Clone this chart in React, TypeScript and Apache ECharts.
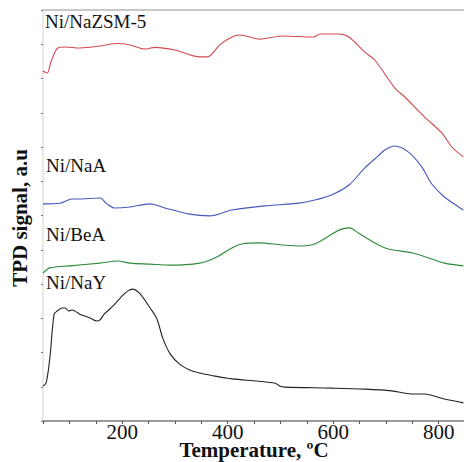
import React, { useEffect, useRef } from "react";
import * as echarts from "echarts";

const seriesNames = ["Ni/NaZSM-5", "Ni/NaA", "Ni/BeA", "Ni/NaY"];

const redTemp = [50, 58, 65, 78, 92, 120, 158, 190, 215, 243, 262, 300, 347, 362, 385, 408, 423, 461, 503, 563, 575, 611, 630, 660, 679, 717, 736, 773, 806, 825, 847];
const redSignal = [10.22, 10.16, 10.48, 10.89, 10.92, 10.89, 10.95, 11.02, 10.98, 10.86, 10.91, 10.83, 10.63, 10.63, 10.98, 11.21, 11.27, 11.15, 11.24, 11.21, 11.3, 11.3, 11.21, 10.77, 10.54, 9.72, 9.46, 8.88, 8.41, 8.0, 7.71];

const blueTemp = [50, 82, 105, 114, 158, 171, 186, 215, 253, 281, 328, 366, 408, 470, 535, 565, 597, 630, 660, 679, 698, 717, 743, 768, 787, 811, 838, 847];
const blueSignal = [6.34, 6.36, 6.48, 6.48, 6.51, 6.34, 6.22, 6.25, 6.34, 6.22, 6.04, 5.99, 6.16, 6.28, 6.36, 6.45, 6.6, 6.89, 7.39, 7.65, 7.91, 8.03, 7.85, 7.42, 6.92, 6.54, 6.25, 6.16];

const greenTemp = [50, 63, 101, 158, 192, 215, 253, 291, 347, 376, 408, 427, 459, 503, 541, 565, 592, 612, 631, 648, 679, 705, 749, 787, 811, 847];
const greenSignal = [4.32, 4.47, 4.53, 4.61, 4.67, 4.61, 4.58, 4.55, 4.61, 4.76, 5.05, 5.17, 5.2, 5.14, 5.11, 5.17, 5.4, 5.58, 5.64, 5.49, 5.2, 5.02, 4.91, 4.73, 4.61, 4.53];

const blackTemp = [50, 56, 63, 71, 77, 86, 92, 99, 105, 120, 139, 152, 158, 166, 183, 200, 211, 220, 234, 253, 266, 277, 291, 309, 328, 347, 376, 395, 408, 489, 499, 508, 597, 660, 711, 749, 773, 811, 847];
const blackSignal = [1.02, 1.11, 1.84, 3.12, 3.21, 3.3, 3.3, 3.21, 3.24, 3.12, 3.01, 2.92, 2.95, 3.12, 3.36, 3.65, 3.8, 3.85, 3.71, 3.3, 2.98, 2.42, 1.96, 1.66, 1.49, 1.4, 1.31, 1.26, 1.23, 1.11, 1.02, 0.99, 0.96, 0.93, 0.88, 0.79, 0.79, 0.64, 0.53];

const xTickLabels = [200, 400, 600, 800];
const xTitle = "Temperature, ºC";
const yTitle = "TPD signal, a.u";

const SERIF = "'Liberation Serif', 'Times New Roman', serif";

function pairs(xs: number[], ys: number[]) {
  return xs.map((x, i) => [x, ys[i]]);
}

export default function App() {
  const ref = useRef<HTMLDivElement>(null);
  useEffect(() => {
    document.body.style.margin = "0";
    if (!ref.current) return;
    const chart = echarts.init(ref.current, undefined, { renderer: "svg" });
    const colors = ["#d24a52", "#4558ba", "#2f8a3a", "#222222"];
    const datasets = [
      pairs(redTemp, redSignal),
      pairs(blueTemp, blueSignal),
      pairs(greenTemp, greenSignal),
      pairs(blackTemp, blackSignal),
    ];
    const labelPos = [
      [45, 23],
      [46, 167],
      [46, 236],
      [46, 284],
    ];
    chart.setOption({
      animation: false,
      backgroundColor: "#ffffff",
      grid: { left: 43, top: 10, width: 422, height: 411, containLabel: false, outerBoundsMode: "none" },
      xAxis: [
        {
          type: "value",
          min: 50,
          max: 850,
          interval: 50,
          axisLine: { lineStyle: { color: "#7a7a7a", width: 1.5 } },
          axisTick: { length: 3, lineStyle: { color: "#555" } },
          axisLabel: {
            fontFamily: SERIF,
            fontSize: 21,
            lineHeight: 17,
            color: "#111",
            margin: 2,
            formatter: (v: number) => (xTickLabels.includes(v) ? String(v) : ""),
          },
          splitLine: { show: false },
        },
        {
          type: "value",
          position: "top",
          min: 50,
          max: 850,
          interval: 50,
          axisLine: { show: true, lineStyle: { color: "#c8c8c8", width: 2 } },
          axisTick: { show: false },
          axisLabel: { show: false },
          splitLine: { show: false },
        },
      ],
      yAxis: {
        type: "value",
        min: 0,
        max: 12,
        interval: 1,
        axisLine: { show: true, lineStyle: { color: "#e2e2e2", width: 1.5 } },
        axisTick: { show: true, length: 2, lineStyle: { color: "#777" } },
        axisLabel: { show: false },
        splitLine: { show: false },
      },
      series: datasets.map((d, i) => ({
        type: "line",
        name: seriesNames[i],
        data: d,
        showSymbol: false,
        smooth: 0.3,
        lineStyle: { color: colors[i], width: 1.1 },
        xAxisIndex: 0,
      })),
      graphic: [
        ...seriesNames.map((n, i) => ({
          type: "text",
          left: labelPos[i][0],
          top: labelPos[i][1] - 11,
          style: { text: n, fontFamily: SERIF, fontSize: 19, fill: "#111" },
        })),
        {
          type: "text",
          x: 254,
          y: 450,
          style: {
            text: xTitle,
            fontFamily: SERIF,
            fontWeight: "bold",
            fontSize: 21,
            lineHeight: 18,
            fill: "#111",
            align: "center",
            verticalAlign: "middle",
          },
        },
        {
          type: "text",
          x: 20,
          y: 218,
          rotation: Math.PI / 2,
          style: {
            text: yTitle,
            fontFamily: SERIF,
            fontWeight: "bold",
            fontSize: 21,
            fill: "#111",
            align: "center",
            verticalAlign: "middle",
          },
        },
      ],
    });
    return () => chart.dispose();
  }, []);
  return <div ref={ref} style={{ width: 464, height: 462 }} />;
}
